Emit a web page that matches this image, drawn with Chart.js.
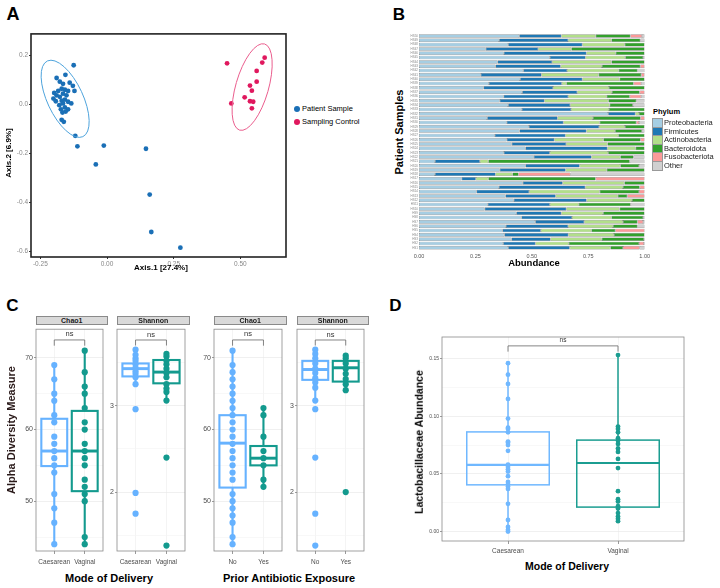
<!DOCTYPE html>
<html lang="en">
<head>
<meta charset="UTF-8">
<title>Microbiome panels</title>
<script src="https://cdn.jsdelivr.net/npm/chart.js"></script>
<style>
  body { margin: 0; width: 720px; height: 588px; position: relative; background: #fff; overflow: hidden;
         font-family: 'Liberation Sans', Arial, sans-serif; }
  canvas { position: absolute; }
  .strip { position: absolute; background: #d9d9d9; border: 0.8px solid #8a8a8a; box-sizing: border-box;
           font-size: 7px; font-weight: bold; text-align: center; color: #1a1a1a; }
  .sw { position: absolute; width: 9px; height: 7.5px; }
</style>
</head>
<body>

<canvas id="pcoa" width="285" height="240" style="left:5px;top:29px"></canvas>
<canvas id="phylum" width="248" height="242" style="left:405px;top:31px"></canvas>
<canvas id="c1" width="85" height="243" style="left:22px;top:324px"></canvas>
<canvas id="c2" width="80" height="243" style="left:109px;top:324px"></canvas>
<canvas id="c3" width="86" height="243" style="left:200px;top:324px"></canvas>
<canvas id="c4" width="79" height="243" style="left:289px;top:324px"></canvas>
<canvas id="lacto" width="266" height="222" style="left:422px;top:333px"></canvas>

<script>
// ---- A: PCoA ordination ----
const patientX = [-0.125, -0.189, -0.156, -0.140, -0.128, -0.122, -0.177, -0.165, -0.198, -0.183, -0.170, -0.158, -0.146, -0.189,
  -0.177, -0.165, -0.152, -0.201, -0.192, -0.170, -0.158, -0.146, -0.134, -0.179, -0.165, -0.173, -0.158, -0.146, -0.167, -0.155,
  -0.170, -0.162, -0.119, -0.111, -0.012, -0.042, 0.146, 0.160, 0.166, 0.275];
const patientY = [0.160, 0.108, 0.121, 0.089, 0.076, 0.055, 0.093, 0.084, 0.047, 0.055, 0.064, 0.060, 0.055, 0.037,
  0.031, 0.044, 0.037, 0.024, 0.013, 0.015, 0.020, 0.011, 0.004, -0.003, 0.004, -0.020, -0.012, -0.020, -0.033, -0.029,
  -0.063, -0.071, -0.128, -0.171, -0.168, -0.245, -0.181, -0.368, -0.521, -0.585];
const controlX = [0.450, 0.591, 0.582, 0.561, 0.536, 0.561, 0.543, 0.516, 0.466, 0.536, 0.548, 0.543];
const controlY = [0.168, 0.191, 0.171, 0.137, 0.077, 0.093, 0.056, 0.029, 0.004, 0.013, 0.011, -0.016];
// ellipse: centre x, centre y, semi-axis vectors (u, v) in data units
const patientEllipse = [-0.157, 0.023, 0.0663, -0.1547, -0.061, -0.0300];
const controlEllipse = [0.544, 0.071, 0.0467, 0.176, 0.059, -0.0187];
const pcoaXTicks = [-0.25, 0, 0.25, 0.5];
const pcoaYTicks = [-0.6, -0.4, -0.2, 0, 0.2];

// ---- B: phylum composition (rows top to bottom) ----
const sampleIds = ['HS50','HS49','HS48','HS47','HS46','HS45','HS44','HS43','HS42','HS41','HS40','HS39','HS38','HS37','HS36',
  'HS35','HS34','HS33','HS32','HS31','HS30','HS29','HS28','HS27','HS26','HS25','HS24','HS23','HS22','HS21','HS20','HS19','HS18',
  'HS17','HS16','HS15','HS14','HS13','HS12','HS11','HS10','HS9','HS8','HS7','HS6','HS5','HS4','HS3','HS2','HS1'];
const phyla = ['Proteobacteria', 'Firmicutes', 'Actinobacteria', 'Bacteroidota', 'Fusobacteriota', 'Other'];
const proteo = [.444,.355,.395,.296,.376,.580,.348,.339,.462,.274,.448,.310,.286,.457,.375,.358,.395,.456,.838,.302,.389,.487,.445,.336,.389,
  .411,.472,.376,.509,.071,.472,.358,.071,.189,.460,.354,.255,.383,.420,.305,.291,.431,.454,.515,.385,.370,.378,.410,.373,.395];
const firm = [.187,.306,.329,.232,.366,.158,.242,.289,.194,.269,.276,.323,.308,.244,.286,.198,.275,.218,.121,.312,.251,.311,.297,.313,.211,
  .241,.363,.204,.256,.199,.240,.292,.268,.063,.177,.383,.233,.223,.323,.275,.362,.200,.224,.217,.276,.170,.284,.173,.143,.273];
const actino = [.152,.192,.188,.147,.130,.176,.263,.183,.229,.253,.165,.020,.248,.154,.171,.283,.175,.168,.016,.157,.161,.115,.127,.234,.217,
  .183,.125,.258,.127,.037,.180,.182,.075,.055,.273,.167,.313,.275,.201,.128,.236,.185,.175,.172,.199,.224,.202,.227,.148,.180];
const bacter = [.154,.128,.088,.325,.128,.079,.147,.170,.083,.189,.111,.298,.158,.123,.102,.124,.103,.158,.025,.211,.162,.087,.119,.117,.165,
  .165,.040,.162,.059,.627,.083,.168,.027,.476,.090,.074,.174,.042,.056,.230,.111,.184,.140,.064,.108,.106,.136,.187,.311,.056];
const fuso = [.051,0,0,0,0,0,0,.019,0,.015,0,.034,0,.022,.051,0,0,0,0,.018,.012,0,0,0,.018,
  0,0,0,0,0,0,0,.230,.217,0,.022,.025,.077,0,0,0,0,0,.025,0,.130,0,0,.022,.074];
const other = [.012,.019,0,0,0,.007,0,0,.032,0,0,.015,0,0,.015,.037,.052,0,0,0,.025,0,.012,0,0,
  0,0,0,.049,.066,.025,0,.329,0,0,0,0,0,0,.062,0,0,.007,.007,.032,0,0,.003,.003,.022];
const abundTicks = [0, 0.25, 0.5, 0.75, 1];

// ---- C: alpha diversity ----
const deliveryCats = ['Caesarean', 'Vaginal'];
const antibioticCats = ['No', 'Yes'];
const chaoCaes = [69, 67, 65, 64, 62, 61, 59, 58, 57, 56, 55, 54, 51, 49, 47, 44];
const chaoVag = [71, 68, 66, 65, 63, 61, 60, 58, 57, 56, 55, 53, 52, 51, 50, 45, 44];
const shanCaes = [3.65, 3.59, 3.55, 3.52, 3.48, 3.44, 3.40, 3.37, 3.33, 3.25, 2.96, 1.99, 1.75];
const shanVag = [3.60, 3.57, 3.52, 3.48, 3.43, 3.38, 3.33, 3.25, 3.20, 3.16, 3.06, 2.40, 1.38];
const chaoNo = [71, 69, 68, 67, 66, 65, 64, 63, 62, 61, 60, 59, 58, 57, 56, 55, 54, 53, 51, 50, 49, 48, 47, 45, 44];
const chaoYes = [63, 62, 59, 57, 56, 55, 53, 52];
const shanNo = [3.65, 3.60, 3.55, 3.49, 3.43, 3.38, 3.32, 3.27, 3.21, 3.06, 2.96, 2.40, 1.75, 1.38];
const shanYes = [3.58, 3.55, 3.49, 3.43, 3.37, 3.31, 3.25, 3.18, 2.00];
// box stats: lower whisker, q1, median, q3, upper whisker
const chaoCaesBox = [44, 54.9, 57, 61.5, 69];
const chaoVagBox = [44, 51.4, 57, 62.6, 71];
const shanCaesBox = [3.25, 3.34, 3.43, 3.49, 3.65];
const shanVagBox = [3.06, 3.26, 3.39, 3.53, 3.60];
const chaoNoBox = [44, 51.9, 58.1, 62, 71];
const chaoYesBox = [52, 55, 56, 57.7, 63];
const shanNoBox = [3.06, 3.30, 3.42, 3.52, 3.65];
const shanYesBox = [3.18, 3.28, 3.44, 3.52, 3.58];
const chaoTicks = [50, 60, 70], chaoMinor = [45, 55, 65];
const shanTicks = [2, 3], shanMinor = [1.5, 2.5, 3.5];

// ---- D: Lactobacillaceae ----
const lactoCaes = [0.146, 0.136, 0.128, 0.115, 0.098, 0.090, 0.089, 0.086, 0.078, 0.077, 0.075, 0.070, 0.058, 0.056, 0.054,
  0.052, 0.048, 0.043, 0.041, 0.039, 0.037, 0.024, 0.010, 0.004, 0.0015, 0.0];
const lactoVag = [0.153, 0.091, 0.089, 0.086, 0.081, 0.079, 0.076, 0.072, 0.069, 0.063, 0.055, 0.035, 0.028, 0.026, 0.022,
  0.020, 0.016, 0.013, 0.011, 0.009];
const lactoCaesBox = [0.0, 0.0405, 0.0578, 0.0864, 0.146];
const lactoVagBox = [0.009, 0.0212, 0.0595, 0.0793, 0.153];
const lactoTicks = [0, 0.05, 0.10, 0.15], lactoMinor = [0.025, 0.075, 0.125];

const FONT = "'Liberation Sans', Arial, sans-serif";
Chart.defaults.font.family = FONT;
const LIGHT = '#66b2ff', TEAL = '#139a8e';

// helper: html text centred on (x, y)
function txt(s, x, y, size, o = {}) {
  const d = document.createElement('div');
  d.textContent = s;
  d.style.cssText = `position:absolute;left:${x}px;top:${y}px;font-size:${size}px;line-height:1;white-space:nowrap;` +
    `font-weight:${o.bold ? 'bold' : 'normal'};color:${o.color || '#000'};` +
    `transform:translate(${o.left ? '0' : '-50%'},-50%)${o.rot ? ' rotate(-90deg)' : ''}`;
  document.body.appendChild(d);
}

// frame round the plot area
function frame(color, lw) {
  return { id: 'frame', afterDraw(chart) {
    const a = chart.chartArea, ctx = chart.ctx;
    ctx.save(); ctx.strokeStyle = color; ctx.lineWidth = lw;
    ctx.strokeRect(a.left, a.top, a.right - a.left, a.bottom - a.top);
    ctx.restore();
  } };
}

// confidence ellipses, drawn through the chart scales
function ellipses(list) {
  return { id: 'ellipses', afterDatasetsDraw(chart) {
    const xs = chart.scales.x, ys = chart.scales.y, ctx = chart.ctx;
    const kx = xs.getPixelForValue(1) - xs.getPixelForValue(0);
    const ky = ys.getPixelForValue(1) - ys.getPixelForValue(0);
    list.forEach(([e, color]) => {
      ctx.save();
      ctx.beginPath();
      ctx.save();
      ctx.transform(e[2] * kx, e[3] * ky, e[4] * kx, e[5] * ky, xs.getPixelForValue(e[0]), ys.getPixelForValue(e[1]));
      ctx.arc(0, 0, 1, 0, Math.PI * 2);
      ctx.restore();
      ctx.strokeStyle = color; ctx.lineWidth = 1;
      ctx.stroke();
      ctx.restore();
    });
  } };
}

// box plots + significance bracket
function boxLayer(groups, br, st) {
  return { id: 'boxes', beforeDatasetsDraw(chart) {
    const xs = chart.scales.x, ys = chart.scales.y, ctx = chart.ctx;
    groups.forEach((g, i) => {
      const [lo, q1, md, q3, hi] = g.stats, c = i + 1;
      const x0 = xs.getPixelForValue(c - st.bw / 2), x1 = xs.getPixelForValue(c + st.bw / 2), xc = xs.getPixelForValue(c);
      ctx.save();
      ctx.strokeStyle = g.color; ctx.lineWidth = st.lw;
      ctx.beginPath();
      ctx.moveTo(xc, ys.getPixelForValue(hi)); ctx.lineTo(xc, ys.getPixelForValue(q3));
      ctx.moveTo(xc, ys.getPixelForValue(q1)); ctx.lineTo(xc, ys.getPixelForValue(lo));
      ctx.stroke();
      ctx.strokeRect(x0, ys.getPixelForValue(q3), x1 - x0, ys.getPixelForValue(q1) - ys.getPixelForValue(q3));
      ctx.lineWidth = st.lw * 1.4;
      ctx.beginPath(); ctx.moveTo(x0, ys.getPixelForValue(md)); ctx.lineTo(x1, ys.getPixelForValue(md)); ctx.stroke();
      ctx.restore();
    });
    // bracket
    const a = xs.getPixelForValue(1), b = xs.getPixelForValue(2);
    ctx.save();
    ctx.strokeStyle = '#666'; ctx.lineWidth = 0.8;
    ctx.beginPath();
    ctx.moveTo(a, ys.getPixelForValue(br[1])); ctx.lineTo(a, ys.getPixelForValue(br[0]));
    ctx.lineTo(b, ys.getPixelForValue(br[0])); ctx.lineTo(b, ys.getPixelForValue(br[1]));
    ctx.stroke();
    ctx.fillStyle = '#333'; ctx.font = st.nf + 'px ' + FONT;
    ctx.textAlign = 'center'; ctx.textBaseline = 'middle';
    ctx.fillText('ns', (a + b) / 2, ys.getPixelForValue(br[2]));
    ctx.restore();
  } };
}

function boxChart(id, cats, groups, yMin, yMax, majors, minors, fmt, yw, xh, br, st) {
  const datasets = groups.map((g, i) => ({
    data: g.vals.map(v => ({ x: i + 1, y: v })),
    backgroundColor: g.color, borderWidth: 0, pointRadius: st.r
  }));
  new Chart(document.getElementById(id), {
    type: 'scatter',
    data: { datasets },
    options: {
      responsive: false, animation: false, events: [],
      layout: { padding: 0 },
      plugins: { legend: { display: false }, tooltip: { enabled: false } },
      scales: {
        x: {
          type: 'linear', min: 0.4, max: 2.6,
          afterBuildTicks: s => { s.ticks = [{ value: 1 }, { value: 2 }]; },
          afterFit: s => { s.height = xh; },
          ticks: { callback: v => cats[Math.round(v) - 1], font: { size: st.xf }, color: '#4d4d4d', padding: st.xp, maxRotation: 0, autoSkip: false },
          grid: { color: '#ececec', lineWidth: 0.6, tickLength: 3, tickColor: '#555' },
          border: { display: false }
        },
        y: {
          min: yMin, max: yMax,
          afterBuildTicks: s => { s.ticks = majors.concat(minors).sort((p, q) => p - q).map(v => ({ value: v })); },
          afterFit: s => { s.width = yw; },
          ticks: { callback: v => majors.includes(v) ? fmt(v) : '', font: { size: st.yf }, color: '#4d4d4d', padding: 1, autoSkip: false },
          grid: {
            color: c => (c.tick && majors.includes(c.tick.value)) ? '#e6e6e6' : '#f3f3f3',
            lineWidth: 0.6, tickLength: 2,
            tickColor: c => (c.tick && majors.includes(c.tick.value)) ? '#555' : 'rgba(0,0,0,0)'
          },
          border: { display: false }
        }
      }
    },
    plugins: [boxLayer(groups, br, st), frame('#8a8a8a', 0.8)]
  });
}

// ---------- Panel A ----------
new Chart(document.getElementById('pcoa'), {
  type: 'scatter',
  data: {
    datasets: [
      { label: 'Patient Sample', data: patientX.map((x, i) => ({ x, y: patientY[i] })), backgroundColor: '#1a6fb6', borderWidth: 0, pointRadius: 2.4 },
      { label: 'Sampling Control', data: controlX.map((x, i) => ({ x, y: controlY[i] })), backgroundColor: '#e0185e', borderWidth: 0, pointRadius: 2.4 }
    ]
  },
  options: {
    responsive: false, animation: false, events: [],
    layout: { padding: 0 },
    plugins: { legend: { display: false }, tooltip: { enabled: false } },
    scales: {
      x: {
        type: 'linear', min: -0.285, max: 0.671,
        afterBuildTicks: s => { s.ticks = pcoaXTicks.map(v => ({ value: v })); },
        afterFit: s => { s.height = 12; },
        ticks: { callback: v => Number(v).toFixed(2), font: { size: 6.5 }, color: '#888', padding: 1, maxRotation: 0 },
        grid: { drawOnChartArea: false, tickLength: 2, color: '#333' },
        border: { display: false }
      },
      y: {
        min: -0.623, max: 0.288,
        afterBuildTicks: s => { s.ticks = pcoaYTicks.map(v => ({ value: v })); },
        afterFit: s => { s.width = 26; },
        ticks: { callback: v => Number(v).toFixed(1), font: { size: 6.5 }, color: '#888', padding: 1 },
        grid: { drawOnChartArea: false, tickLength: 2, color: '#333' },
        border: { display: false }
      }
    }
  },
  plugins: [ellipses([[patientEllipse, '#4da3dc'], [controlEllipse, '#ea5d8d']]), frame('#222', 1.6)]
});

// ---------- Panel B ----------
const phylumColors = ['#a6cee3', '#1f78b4', '#b2df8a', '#33a02c', '#fb9a99', '#d0d0d0'];
const phylumData = [proteo, firm, actino, bacter, fuso, other];
new Chart(document.getElementById('phylum'), {
  type: 'bar',
  data: {
    labels: sampleIds,
    datasets: phyla.map((p, i) => ({
      label: p, data: phylumData[i], backgroundColor: phylumColors[i],
      borderColor: '#666', borderWidth: 0.5, borderSkipped: false,
      barPercentage: 0.82, categoryPercentage: 1
    }))
  },
  options: {
    indexAxis: 'y', responsive: false, animation: false, events: [],
    layout: { padding: { right: 8, bottom: 10 } },
    plugins: { legend: { display: false }, tooltip: { enabled: false } },
    scales: {
      x: {
        type: 'linear', position: 'bottom', stacked: true, min: 0, max: 1,
        afterBuildTicks: s => { s.ticks = abundTicks.map(v => ({ value: v })); },
        afterFit: s => { s.height = 13; },
        ticks: { callback: v => Number(v).toFixed(2), font: { size: 5.5 }, color: '#555', padding: 3, maxRotation: 0, autoSkip: false },
        grid: { display: false, drawTicks: false },
        border: { display: false }
      },
      y: {
        stacked: true,
        afterFit: s => { s.width = 14; },
        ticks: { font: { size: 3 }, color: '#888', padding: 1, autoSkip: false },
        grid: { display: false, drawTicks: false },
        border: { display: false }
      }
    }
  }
});

// ---------- Panel C ----------
const cStyle = { r: 3.1, bw: 0.85, lw: 2.1, xf: 6.5, yf: 7, nf: 7.5, xp: 4 };
boxChart('c1', deliveryCats, [{ vals: chaoCaes, stats: chaoCaesBox, color: LIGHT }, { vals: chaoVag, stats: chaoVagBox, color: TEAL }],
  43.05, 74.0, chaoTicks, chaoMinor, v => String(v), 14, 16, [72.5, 71.7, 73.3], cStyle);
boxChart('c2', deliveryCats, [{ vals: shanCaes, stats: shanCaesBox, color: LIGHT }, { vals: shanVag, stats: shanVagBox, color: TEAL }],
  1.317, 3.887, shanTicks, shanMinor, v => String(v), 8, 16, [3.762, 3.698, 3.82], cStyle);
boxChart('c3', antibioticCats, [{ vals: chaoNo, stats: chaoNoBox, color: LIGHT }, { vals: chaoYes, stats: chaoYesBox, color: TEAL }],
  43.05, 74.0, chaoTicks, chaoMinor, v => String(v), 14, 16, [72.5, 71.7, 73.3], cStyle);
boxChart('c4', antibioticCats, [{ vals: shanNo, stats: shanNoBox, color: LIGHT }, { vals: shanYes, stats: shanYesBox, color: TEAL }],
  1.317, 3.887, shanTicks, shanMinor, v => String(v), 8, 16, [3.762, 3.698, 3.82], cStyle);

// ---------- Panel D ----------
boxChart('lacto', deliveryCats, [{ vals: lactoCaes, stats: lactoCaesBox, color: '#70b8ff' }, { vals: lactoVag, stats: lactoVagBox, color: '#1b9d91' }],
  -0.0082, 0.1687, lactoTicks, lactoMinor, v => Number(v).toFixed(2), 20, 14, [0.161, 0.156, 0.1655],
  { r: 2.4, bw: 0.75, lw: 1.5, xf: 6.5, yf: 5, nf: 6.5, xp: 3 });

// ---------- text ----------
txt('A', 13, 13.5, 18, { bold: true });
txt('B', 399, 14, 17, { bold: true });
txt('C', 12.5, 305, 17, { bold: true });
txt('D', 395.5, 305, 17, { bold: true });

txt('Axis.1   [27.4%]', 161, 268, 8, { bold: true });
txt('Axis.2   [6.9%]', 9, 153, 8, { bold: true, rot: true });
[['Patient Sample', '#1a6fb6', 108.5], ['Sampling Control', '#e0185e', 122]].forEach(([s, c, y]) => {
  const d = document.createElement('div');
  d.style.cssText = `position:absolute;left:294px;top:${y - 3}px;width:6px;height:6px;border-radius:50%;background:${c}`;
  document.body.appendChild(d);
  txt(s, 302, y, 7.5, { left: true });
});

txt('Patient Samples', 399, 132, 11, { bold: true, rot: true });
txt('Abundance', 534, 263, 9.5, { bold: true });
txt('Phylum', 653, 112, 7.5, { bold: true, left: true });
phyla.forEach((p, i) => {
  const y = 123 + i * 8.55;
  const d = document.createElement('div');
  d.className = 'sw';
  d.style.cssText += `left:653px;top:${y - 3.75}px;background:${phylumColors[i]};outline:0.5px solid #999`;
  document.body.appendChild(d);
  txt(p, 664, y, 7.5, { left: true, color: '#222' });
});

[[36, 107, 'Chao1'], [117, 189, 'Shannon'], [214, 286, 'Chao1'], [297, 368, 'Shannon']].forEach(([l, r, s]) => {
  const d = document.createElement('div');
  d.className = 'strip';
  d.textContent = s;
  d.style.cssText += `left:${l}px;top:316px;width:${r - l + 0.5}px;height:8.5px;line-height:8px`;
  document.body.appendChild(d);
});
txt('Alpha Diversity Measure', 11, 430, 11, { bold: true, rot: true, color: '#2a1a1a' });
txt('Mode of Delivery', 109, 578, 11, { bold: true });
txt('Prior Antibiotic Exposure', 289, 578, 11, { bold: true });

txt('Lactobacillaceae Abundance', 419, 442, 10.5, { bold: true, rot: true });
txt('Mode of Delivery', 567, 566, 10.5, { bold: true });
</script>
</body>
</html>
